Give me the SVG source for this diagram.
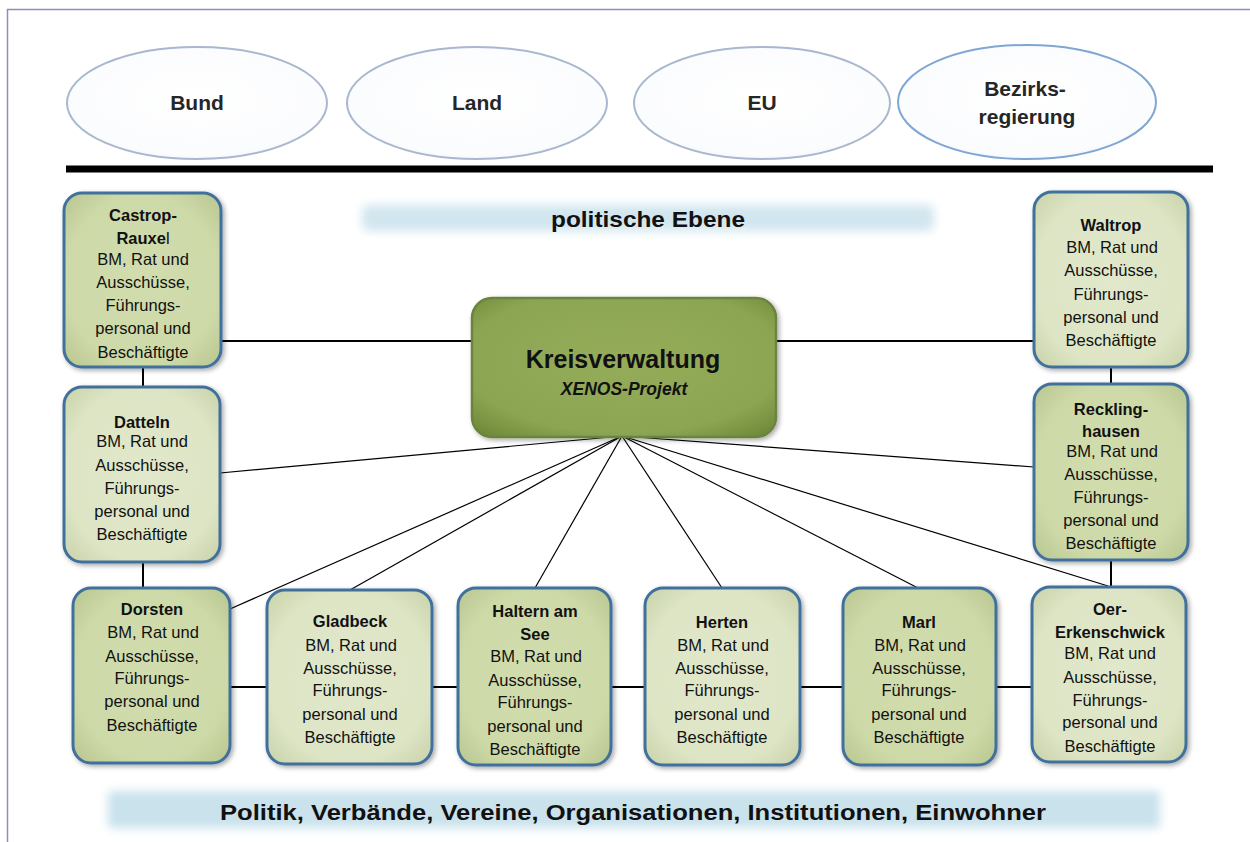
<svg xmlns="http://www.w3.org/2000/svg" width="1250" height="842" viewBox="0 0 1250 842">
  <defs>
    <radialGradient id="ellFill" cx="50%" cy="45%" r="60%">
      <stop offset="0%" stop-color="#ffffff"/>
      <stop offset="85%" stop-color="#fbfcfe"/>
      <stop offset="100%" stop-color="#eef2f8"/>
    </radialGradient>
    <radialGradient id="nodeDark" cx="50%" cy="50%" r="70%">
      <stop offset="0%" stop-color="#d2ddaf"/>
      <stop offset="70%" stop-color="#cdd9a7"/>
      <stop offset="100%" stop-color="#b8c690"/>
    </radialGradient>
    <radialGradient id="nodeLight" cx="50%" cy="50%" r="70%">
      <stop offset="0%" stop-color="#e1e8cb"/>
      <stop offset="70%" stop-color="#dde5c5"/>
      <stop offset="100%" stop-color="#c8d2a8"/>
    </radialGradient>
    <radialGradient id="centerFill" cx="50%" cy="45%" r="70%">
      <stop offset="0%" stop-color="#95ad5a"/>
      <stop offset="75%" stop-color="#8ca552"/>
      <stop offset="100%" stop-color="#6f8a3a"/>
    </radialGradient>
    <filter id="soft" x="-5%" y="-40%" width="110%" height="180%">
      <feGaussianBlur stdDeviation="5"/>
    </filter>
    <filter id="shadow" x="-10%" y="-10%" width="125%" height="125%">
      <feGaussianBlur in="SourceAlpha" stdDeviation="2.5"/>
      <feOffset dx="1.5" dy="2" result="b"/>
      <feComponentTransfer><feFuncA type="linear" slope="0.35"/></feComponentTransfer>
      <feMerge><feMergeNode/><feMergeNode in="SourceGraphic"/></feMerge>
    </filter>
    <style>
      .ell { fill: url(#ellFill); stroke: #a9b7cf; stroke-width: 2; }
      .ellB { fill: url(#ellFill); stroke: #80a7d4; stroke-width: 2; }
      .ellT { font-family: "Liberation Sans", Arial, sans-serif; font-weight: bold; font-size: 21px; fill: #262626; text-anchor: middle; }
      .box { stroke: #41719c; stroke-width: 3; filter: url(#shadow); }
      .dark { fill: url(#nodeDark); }
      .light { fill: url(#nodeLight); }
      .nt { font-family: "Liberation Sans", Arial, sans-serif; font-size: 16.5px; fill: #111; text-anchor: middle; }
      .nb { font-weight: bold; }
      .c { stroke: #000; stroke-width: 2; fill: none; }
      .f { stroke: #000; stroke-width: 1.2; fill: none; }
      .band { fill: #c9e2ec; filter: url(#soft); }
      .bandT { font-family: "Liberation Sans", Arial, sans-serif; font-weight: bold; font-size: 22px; fill: #111; text-anchor: middle; }
    </style>
  </defs>

  <rect width="1250" height="842" fill="#ffffff"/>
  <!-- page frame -->
  <path d="M7.5 842 V9.5 H1250" fill="none" stroke="#8a8ebd" stroke-width="1.5"/>

  <!-- upper levels -->
  <g id="bund">
    <ellipse class="ell" cx="197" cy="103" rx="130" ry="56"/>
    <text class="ellT" x="197" y="110">Bund</text>
  </g>
  <g id="land">
    <ellipse class="ell" cx="477" cy="103" rx="130" ry="56"/>
    <text class="ellT" x="477" y="110">Land</text>
  </g>
  <g id="eu">
    <ellipse class="ell" cx="762" cy="103" rx="128" ry="56"/>
    <text class="ellT" x="762" y="110">EU</text>
  </g>
  <g id="bezirksregierung">
    <ellipse class="ellB" cx="1027" cy="102" rx="129" ry="57"/>
    <text class="ellT" x="1025" y="96">Bezirks-</text>
    <text class="ellT" x="1027" y="124">regierung</text>
  </g>

  <!-- divider -->
  <rect x="66" y="165.5" width="1147" height="7" fill="#000"/>

  <g id="politische-ebene">
    <rect class="band" x="362" y="205" width="572" height="26" rx="6" opacity="0.85"/>
    <text class="bandT" x="648" y="227" font-size="23" textLength="194" lengthAdjust="spacingAndGlyphs">politische Ebene</text>
  </g>

  <!-- connectors -->
  <g id="connectors">
    <line class="c" x1="221" y1="341" x2="472" y2="341"/>
    <line class="c" x1="776" y1="341" x2="1034" y2="341"/>
    <line class="c" x1="143" y1="367" x2="143" y2="387"/>
    <line class="c" x1="143" y1="562" x2="143" y2="588"/>
    <line class="c" x1="1111" y1="367" x2="1111" y2="384"/>
    <line class="c" x1="1111" y1="560" x2="1111" y2="587"/>
    <line class="c" x1="230" y1="687" x2="267" y2="687"/>
    <line class="c" x1="432" y1="687" x2="458" y2="687"/>
    <line class="c" x1="611" y1="687" x2="645" y2="687"/>
    <line class="c" x1="800" y1="687" x2="843" y2="687"/>
    <line class="c" x1="996" y1="687" x2="1032" y2="687"/>
    <line class="f" x1="622" y1="436" x2="220" y2="473"/>
    <line class="f" x1="622" y1="436" x2="230" y2="609"/>
    <line class="f" x1="622" y1="436" x2="350" y2="590"/>
    <line class="f" x1="622" y1="436" x2="535" y2="588"/>
    <line class="f" x1="622" y1="436" x2="722" y2="588"/>
    <line class="f" x1="622" y1="436" x2="918" y2="588"/>
    <line class="f" x1="622" y1="436" x2="1108" y2="586"/>
    <line class="f" x1="622" y1="436" x2="1034" y2="467"/>
  </g>

  <!-- central node -->
  <g id="kreisverwaltung">
    <rect x="472" y="298" width="304" height="139" rx="20" fill="url(#centerFill)" stroke="#6b8440" stroke-width="2.5" filter="url(#shadow)"/>
    <text x="623" y="368" font-family="'Liberation Sans', Arial, sans-serif" font-weight="bold" font-size="25" fill="#111" text-anchor="middle">Kreisverwaltung</text>
    <text x="624" y="395" font-family="'Liberation Sans', Arial, sans-serif" font-weight="bold" font-style="italic" font-size="17.5" fill="#111" text-anchor="middle">XENOS-Projekt</text>
  </g>

  <!-- municipalities -->
  <g id="castrop-rauxel">
    <rect class="box dark" x="64" y="193" width="157" height="174" rx="18"/>
    <text class="nt nb" x="143" y="221">Castrop-</text>
    <text class="nt" x="143" y="244"><tspan class="nb">Rauxe</tspan>l</text>
    <text class="nt" x="143" y="265">BM, Rat und</text>
    <text class="nt" x="143" y="288">Ausschüsse,</text>
    <text class="nt" x="143" y="311">Führungs-</text>
    <text class="nt" x="143" y="334">personal und</text>
    <text class="nt" x="143" y="358">Beschäftigte</text>
  </g>

  <g id="datteln">
    <rect class="box light" x="64" y="387" width="156" height="175" rx="18"/>
    <text class="nt nb" x="142" y="428">Datteln</text>
    <text class="nt" x="142" y="447">BM, Rat und</text>
    <text class="nt" x="142" y="471">Ausschüsse,</text>
    <text class="nt" x="142" y="494">Führungs-</text>
    <text class="nt" x="142" y="517">personal und</text>
    <text class="nt" x="142" y="540">Beschäftigte</text>
  </g>

  <g id="dorsten">
    <rect class="box dark" x="73" y="588" width="157" height="175" rx="18"/>
    <text class="nt nb" x="152" y="615">Dorsten</text>
    <text class="nt" x="153" y="638">BM, Rat und</text>
    <text class="nt" x="152" y="662">Ausschüsse,</text>
    <text class="nt" x="152" y="684">Führungs-</text>
    <text class="nt" x="152" y="707">personal und</text>
    <text class="nt" x="152" y="731">Beschäftigte</text>
  </g>

  <g id="gladbeck">
    <rect class="box light" x="267" y="590" width="165" height="174" rx="18"/>
    <text class="nt nb" x="350" y="627">Gladbeck</text>
    <text class="nt" x="351" y="651">BM, Rat und</text>
    <text class="nt" x="350" y="674">Ausschüsse,</text>
    <text class="nt" x="350" y="696">Führungs-</text>
    <text class="nt" x="350" y="720">personal und</text>
    <text class="nt" x="350" y="743">Beschäftigte</text>
  </g>

  <g id="haltern-am-see">
    <rect class="box dark" x="458" y="588" width="153" height="177" rx="18"/>
    <text class="nt nb" x="535" y="617">Haltern am</text>
    <text class="nt nb" x="535" y="640">See</text>
    <text class="nt" x="536" y="662">BM, Rat und</text>
    <text class="nt" x="535" y="686">Ausschüsse,</text>
    <text class="nt" x="535" y="708">Führungs-</text>
    <text class="nt" x="535" y="732">personal und</text>
    <text class="nt" x="535" y="755">Beschäftigte</text>
  </g>

  <g id="herten">
    <rect class="box light" x="645" y="588" width="155" height="177" rx="18"/>
    <text class="nt nb" x="722" y="628">Herten</text>
    <text class="nt" x="723" y="651">BM, Rat und</text>
    <text class="nt" x="722" y="674">Ausschüsse,</text>
    <text class="nt" x="722" y="696">Führungs-</text>
    <text class="nt" x="722" y="720">personal und</text>
    <text class="nt" x="722" y="743">Beschäftigte</text>
  </g>

  <g id="marl">
    <rect class="box dark" x="843" y="588" width="153" height="177" rx="18"/>
    <text class="nt nb" x="919" y="628">Marl</text>
    <text class="nt" x="920" y="651">BM, Rat und</text>
    <text class="nt" x="919" y="674">Ausschüsse,</text>
    <text class="nt" x="919" y="696">Führungs-</text>
    <text class="nt" x="919" y="720">personal und</text>
    <text class="nt" x="919" y="743">Beschäftigte</text>
  </g>

  <g id="oer-erkenschwick">
    <rect class="box light" x="1032" y="587" width="154" height="175" rx="18"/>
    <text class="nt nb" x="1110" y="615">Oer-</text>
    <text class="nt nb" x="1110" y="638">Erkenschwick</text>
    <text class="nt" x="1110" y="659">BM, Rat und</text>
    <text class="nt" x="1110" y="683">Ausschüsse,</text>
    <text class="nt" x="1110" y="706">Führungs-</text>
    <text class="nt" x="1110" y="728">personal und</text>
    <text class="nt" x="1110" y="752">Beschäftigte</text>
  </g>

  <g id="waltrop">
    <rect class="box light" x="1034" y="192" width="154" height="175" rx="18"/>
    <text class="nt nb" x="1111" y="231">Waltrop</text>
    <text class="nt" x="1112" y="253">BM, Rat und</text>
    <text class="nt" x="1111" y="276">Ausschüsse,</text>
    <text class="nt" x="1111" y="300">Führungs-</text>
    <text class="nt" x="1111" y="323">personal und</text>
    <text class="nt" x="1111" y="346">Beschäftigte</text>
  </g>

  <g id="recklinghausen">
    <rect class="box dark" x="1034" y="384" width="154" height="176" rx="18"/>
    <text class="nt nb" x="1111" y="415">Reckling-</text>
    <text class="nt nb" x="1111" y="437">hausen</text>
    <text class="nt" x="1112" y="457">BM, Rat und</text>
    <text class="nt" x="1111" y="480">Ausschüsse,</text>
    <text class="nt" x="1111" y="503">Führungs-</text>
    <text class="nt" x="1111" y="526">personal und</text>
    <text class="nt" x="1111" y="549">Beschäftigte</text>
  </g>

  <!-- local society -->
  <g id="gesellschaft">
    <rect class="band" x="108" y="791" width="1052" height="37" rx="4"/>
    <text class="bandT" x="633" y="820" textLength="826" lengthAdjust="spacingAndGlyphs">Politik, Verbände, Vereine, Organisationen, Institutionen, Einwohner</text>
  </g>
</svg>
